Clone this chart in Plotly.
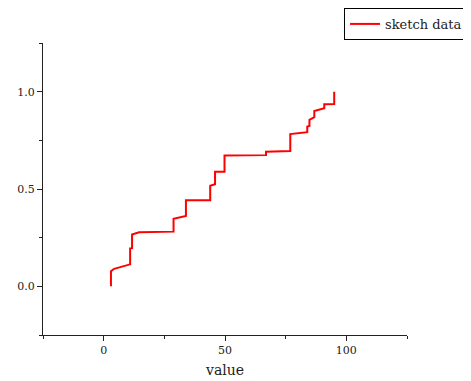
import plotly.graph_objects as go

# vertices of the sketched line (value, cumulative fraction)
x_values = [3.0, 3.0, 4.3, 10.9, 10.9, 11.7, 11.7, 14.6, 28.8, 28.8, 33.9, 33.9,
            43.9, 43.9, 45.9, 45.9, 49.8, 49.8, 66.9, 66.9, 76.9, 76.9, 83.9, 83.9,
            84.8, 84.8, 86.8, 86.8, 90.9, 90.9, 95.0, 95.0]
y_values = [0.0, 0.078, 0.09, 0.113, 0.195, 0.196, 0.266, 0.278, 0.281, 0.347, 0.362, 0.442,
            0.442, 0.517, 0.524, 0.589, 0.589, 0.672, 0.674, 0.691, 0.695, 0.782, 0.792, 0.821,
            0.824, 0.855, 0.869, 0.901, 0.915, 0.935, 0.937, 1.0]
series_name = "sketch data"
x_title = "value"

FONT = "DejaVu Serif"

fig = go.Figure()
fig.add_trace(go.Scatter(x=x_values, y=y_values, mode="lines", name=series_name,
                         line=dict(color="red", width=2)))

# page body has an 8px default margin, so the figure is sized 8px smaller
fig.update_layout(
    width=463, height=373,
    margin=dict(l=35, r=64, t=35, b=46, autoexpand=False),
    paper_bgcolor="white", plot_bgcolor="white",
    font=dict(family=FONT, size=12, color="#222"),
    showlegend=True,
    legend=dict(x=0.827, xanchor="left", y=1.12, yanchor="top",
                bordercolor="black", borderwidth=1, bgcolor="white",
                font=dict(family=FONT, size=13, color="#222"),
                itemwidth=30, tracegroupgap=0),
)
fig.update_xaxes(range=[-25, 125], tick0=0, dtick=50, ticks="outside", ticklen=5,
                 tickcolor="#222", showline=True, linecolor="#222", linewidth=1,
                 showgrid=False, zeroline=False, automargin=False,
                 minor=dict(tick0=0, dtick=25, ticks="outside", ticklen=3, tickcolor="#222", showgrid=False),
                 title=dict(text=x_title, font=dict(family=FONT, size=14), standoff=8),
                 tickfont=dict(family=FONT, size=11))
fig.update_yaxes(range=[-0.25, 1.25], tick0=0, dtick=0.5, tickformat=".1f",
                 ticks="outside", ticklen=5, tickcolor="#222",
                 showline=True, linecolor="#222", linewidth=1,
                 showgrid=False, zeroline=False, automargin=False,
                 minor=dict(tick0=0, dtick=0.25, ticks="outside", ticklen=3, tickcolor="#222", showgrid=False),
                 tickfont=dict(family=FONT, size=11))

fig.write_html("out.html")
